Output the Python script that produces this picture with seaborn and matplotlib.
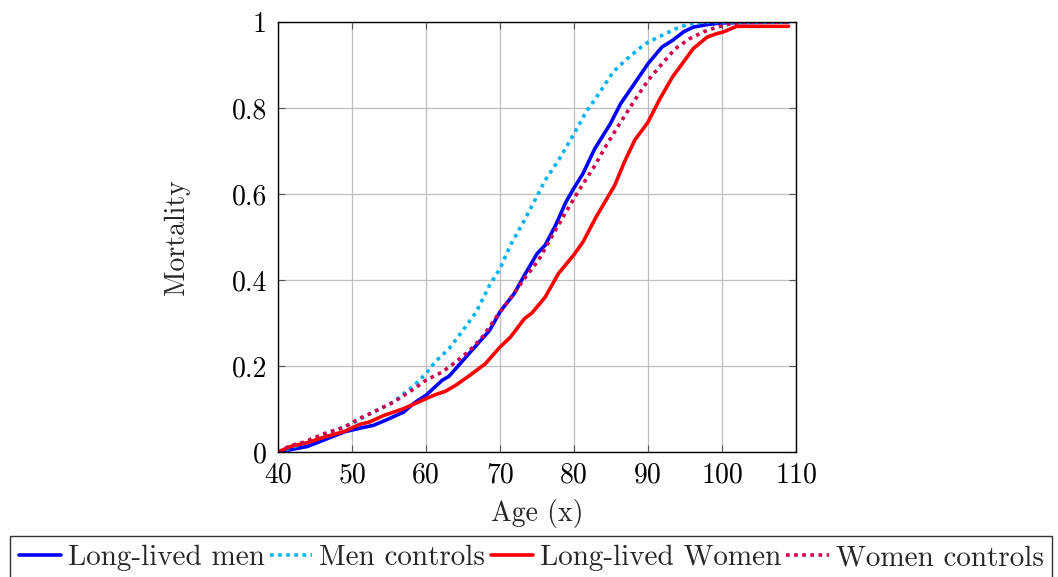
import matplotlib
matplotlib.use("Agg")
import matplotlib.pyplot as plt
import seaborn as sns
import pandas as pd
from matplotlib.ticker import FuncFormatter

# Cumulative mortality by age
men_long_age = [40, 44, 49, 51.5, 52.9, 54.7, 57, 58.4, 60, 61.2, 62.2, 63.1, 65, 66.8,
                68.6, 70, 71.9, 73.3, 75, 76.1, 77.5, 78.9, 80, 81.2, 82.8, 84.9, 86.3,
                87.7, 90, 91.9, 93.3, 94.8, 96.1, 98, 100, 109]
men_long_mort = [0, 0.013, 0.047, 0.057, 0.062, 0.075, 0.093, 0.114, 0.132, 0.151, 0.167,
                 0.176, 0.213, 0.248, 0.283, 0.326, 0.368, 0.411, 0.461, 0.481, 0.527,
                 0.581, 0.614, 0.647, 0.705, 0.763, 0.81, 0.845, 0.903, 0.942, 0.957,
                 0.977, 0.988, 0.994, 0.998, 1.0]

men_ctrl_age = [40, 43.5, 46.3, 50, 52.9, 55.6, 58.4, 60, 61.2, 63.1, 65, 66.8, 68.6, 70,
                71.4, 73.3, 74.7, 76.1, 77.9, 80, 81.6, 83.5, 85.3, 87.2, 89.1, 90, 91.9,
                93.7, 95.6, 97.5, 109]
men_ctrl_mort = [0, 0.02, 0.04, 0.066, 0.093, 0.116, 0.155, 0.182, 0.209, 0.24, 0.283,
                 0.326, 0.388, 0.426, 0.481, 0.539, 0.585, 0.632, 0.678, 0.74, 0.79,
                 0.837, 0.884, 0.915, 0.942, 0.953, 0.969, 0.984, 0.996, 1.0, 1.0]

women_long_age = [40, 41.7, 44, 46.3, 49, 51, 52.4, 54.3, 57, 60, 61.2, 62.6, 64, 65.9,
                  68, 70, 71.4, 73.3, 74.3, 76.1, 77.9, 80, 81.2, 83, 85.5, 86.8, 88.2,
                  90, 91.5, 93.3, 94.8, 96.1, 98, 99.3, 100.2, 102, 109]
women_long_mort = [0, 0.013, 0.022, 0.035, 0.048, 0.064, 0.07, 0.085, 0.101, 0.124, 0.133,
                   0.141, 0.155, 0.178, 0.205, 0.244, 0.267, 0.31, 0.323, 0.36, 0.415,
                   0.459, 0.488, 0.547, 0.62, 0.674, 0.725, 0.767, 0.818, 0.872, 0.907,
                   0.938, 0.965, 0.973, 0.977, 0.99, 0.99]

women_ctrl_age = [40, 41.7, 43.5, 46.3, 49, 51, 52.9, 55.6, 58.4, 60, 62.2, 64, 65.9,
                  67.8, 69.5, 71.4, 73.3, 75.2, 77.1, 78.9, 80.8, 82.7, 84.5, 86.3, 88.2,
                  90, 91.9, 93.7, 95.6, 97.5, 99.3, 101.2, 103, 109]
women_ctrl_mort = [0, 0.015, 0.023, 0.043, 0.058, 0.078, 0.093, 0.116, 0.147, 0.167,
                   0.186, 0.209, 0.236, 0.271, 0.314, 0.357, 0.403, 0.446, 0.504, 0.558,
                   0.612, 0.663, 0.717, 0.767, 0.818, 0.864, 0.903, 0.938, 0.961, 0.977,
                   0.988, 0.996, 1.0, 1.0]

labels = ["Long-lived men", "Men controls", "Long-lived Women", "Women controls"]
x_ticks = [40, 50, 60, 70, 80, 90, 100, 110]
y_ticks = [0, 0.2, 0.4, 0.6, 0.8, 1]

sns.set_theme(style="white")
plt.rcParams["font.family"] = ["cmr10"]
plt.rcParams["mathtext.fontset"] = "cm"
plt.rcParams["axes.formatter.use_mathtext"] = True

fig = plt.figure(figsize=(10.58, 5.77), dpi=100)
ax = fig.add_axes([278 / 1058, 1 - 452 / 577, 518 / 1058, 430 / 577])

dotted = (0, (1.0, 1.25))
series = [
    (men_long_age, men_long_mort, labels[0], "#0000FF", "-"),
    (men_ctrl_age, men_ctrl_mort, labels[1], "#00B4F0", dotted),
    (women_long_age, women_long_mort, labels[2], "#FF0000", "-"),
    (women_ctrl_age, women_ctrl_mort, labels[3], "#D0004F", dotted),
]
for age, mort, lab, col, ls in series:
    df = pd.DataFrame({"age": age, "mort": mort})
    sns.lineplot(data=df, x="age", y="mort", ax=ax, color=col, linewidth=2.6,
                 linestyle=ls, label=lab, legend=False)

ax.set_xlim(40, 110)
ax.set_ylim(0, 1)
ax.set_xticks(x_ticks)
ax.set_yticks(y_ticks)
ax.xaxis.set_major_formatter(FuncFormatter(lambda v, p: f"{v:g}"))
ax.yaxis.set_major_formatter(FuncFormatter(lambda v, p: f"{v:g}"))
ax.grid(True, color="#BEBEBE", linewidth=0.9)
ax.set_axisbelow(True)
for s in ax.spines.values():
    s.set_color("black")
    s.set_linewidth(1.0)
ax.tick_params(direction="in", length=5, width=0.8, color="#555555",
               top=True, right=True, bottom=True, left=True,
               labelsize=20, labelcolor="black")
ax.tick_params(axis="x", pad=7)
ax.tick_params(axis="y", pad=8)
ax.set_xlabel("Age (x)", fontsize=20, labelpad=8)
ax.set_ylabel("Mortality", fontsize=20, labelpad=30)

handles, labs = ax.get_legend_handles_labels()
leg = fig.legend(handles, labs, loc="upper left", bbox_to_anchor=(10 / 1058, 1 - 536 / 577),
                 ncol=4, fontsize=21, frameon=True, fancybox=False, handlelength=1.45,
                 handletextpad=0.24, columnspacing=0.18, borderpad=0.3,
                 borderaxespad=0)
leg.get_frame().set_edgecolor("black")
leg.get_frame().set_linewidth(1.0)

fig.savefig("out.png", dpi=100)
